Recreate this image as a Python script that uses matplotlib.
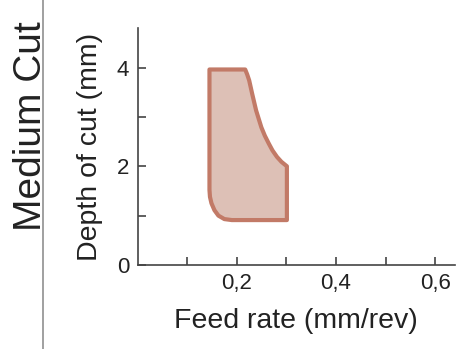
import matplotlib
matplotlib.use("Agg")
import matplotlib.pyplot as plt
from matplotlib.lines import Line2D

plt.rcParams['font.family'] = ['Liberation Sans', 'DejaVu Sans']

# Region boundary (feed rate mm/rev, depth of cut mm)
region_feed = [0.145, 0.217, 0.221, 0.225, 0.231, 0.239, 0.2495, 0.2565, 0.2645, 0.272, 0.281, 0.290, 0.301,
               0.301, 0.190, 0.175, 0.163, 0.155, 0.149, 0.146, 0.145]
region_depth = [3.96, 3.96, 3.86, 3.74, 3.47, 3.13, 2.79, 2.62, 2.46, 2.32, 2.19, 2.09, 2.00,
                0.91, 0.91, 0.93, 1.00, 1.11, 1.25, 1.38, 1.52]

x_major = [0.2, 0.4, 0.6]
x_major_labels = ["0,2", "0,4", "0,6"]
x_minor = [0.1, 0.3, 0.5]
y_major = [0, 2, 4]
y_major_labels = ["0", "2", "4"]
y_minor = [1, 3]

title_text = "Medium Cut"
xlabel_text = "Feed rate (mm/rev)"
ylabel_text = "Depth of cut (mm)"

txt = "#222222"
spine_c = "#444444"

fig = plt.figure(figsize=(4.63, 3.49), dpi=100)
ax = fig.add_axes([0.297, 0.2407, 0.686, 0.679])

ax.fill(region_feed, region_depth, facecolor="#ddc0b6", edgecolor="#c27a67",
        linewidth=3.0, joinstyle="round")

ax.set_xlim(0, 0.64)
ax.set_ylim(0, 4.8)

for s in ["top", "right"]:
    ax.spines[s].set_visible(False)
for s in ["left", "bottom"]:
    ax.spines[s].set_color(spine_c)
    ax.spines[s].set_linewidth(1.2)

ax.set_xticks(x_major)
ax.set_xticklabels(x_major_labels)
ax.set_xticks(x_minor, minor=True)
ax.set_yticks(y_major)
ax.set_yticklabels(y_major_labels)
ax.set_yticks(y_minor, minor=True)

ax.tick_params(axis="both", which="both", direction="in", length=5.5, width=1.2,
               color=spine_c, labelsize=16, labelcolor=txt)
ax.tick_params(axis="x", which="major", pad=6)
ax.tick_params(axis="y", which="major", pad=6)

ax.set_xlabel(xlabel_text, fontsize=20.5, color=txt, labelpad=10)
ax.set_ylabel(ylabel_text, fontsize=20.5, color=txt, labelpad=10)

fig.text(0.066, 0.64, title_text, rotation=90, fontsize=28, color=txt,
         ha="center", va="center")

fig.add_artist(Line2D([0.093, 0.093], [0, 1], transform=fig.transFigure,
                      color="#999999", linewidth=1.3))

fig.savefig("out.png", dpi=100)
